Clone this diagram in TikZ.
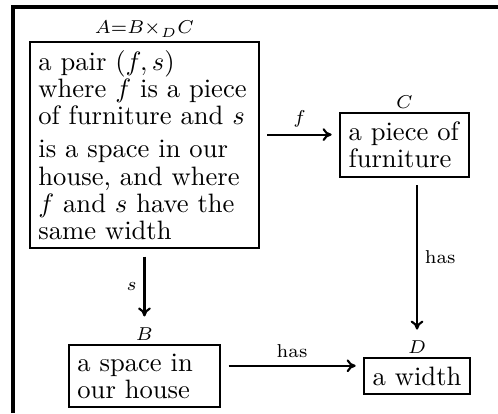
\documentclass[tikz,border=0pt]{standalone}
\usepackage{amsmath,amssymb}
\usetikzlibrary{positioning, arrows.meta}

\begin{document}
\begin{tikzpicture}[node distance=1cm, auto,
    olog/.style={rectangle, draw, thick, inner sep=3.2pt, align=left, font=\fontsize{10}{10.2}\selectfont},
    tag/.style={font=\scriptsize, inner sep=1.2pt},
    lab/.style={font=\scriptsize, inner sep=2.5pt},
    line/.style={draw, -{To[length=3.4pt, width=4.8pt]}, thick, shorten <=2.8pt, shorten >=2.8pt}]

    \useasboundingbox (-54.3pt,-100.75pt) rectangle (132.9pt,54.5pt);
    \draw [line width=1.2pt] (-49.4pt,-100.75pt) -- (-49.4pt,51.9pt) -- (132.9pt,51.9pt);

    \node [olog, text width=79.7pt, label={[tag, name=pairlab]above:$A{=}B{\times}_D C$}] (pair) at (0,0)
        {a pair $(f,s)$\\ where $f$ is a piece\\ of furniture and $s$\\[2.3pt] is a space in our\\ house, and where\\ $f$ and $s$ have the\\ same width};
    \node [olog, text width=42pt, right=29.7pt of pair, label={[tag, name=furnlab]above:$C$}] (furn) {a piece of\\ furniture};
    \node [olog, text width=50.4pt, below=35.7pt of pair, label={[tag, name=spacelab]above:$B$}] (space) {a space in\\ our house};
    \node [olog, right=53.4pt of space, label={[tag, name=widthlab]above:$D$}] (width) {a width};

    \path [line] ([yshift=3.9pt]pair.east) -- node [lab] {$f$} ([yshift=3.9pt]pair.east -| furn.west);
    \path [line] (pair.south) -- node [lab, swap] {$s$} (spacelab.north);
    \path [line] (furn.south -| widthlab.north) -- node [lab] {has} (widthlab.north);
    \path [line] ([yshift=3.9pt]space.east) -- node [lab] {has} ([yshift=3.9pt]space.east -| width.west);
\end{tikzpicture}
\end{document}
